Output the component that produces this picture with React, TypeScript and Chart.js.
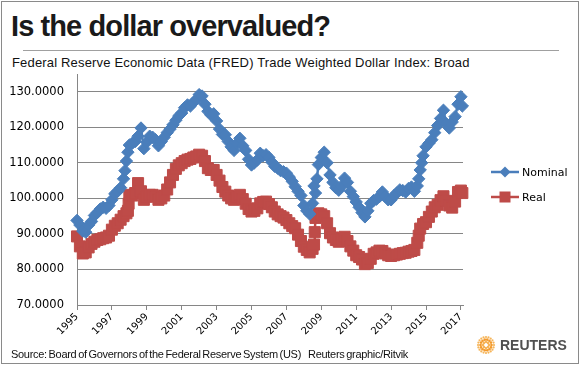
import React, { useEffect, useRef } from "react";
import { Chart, registerables } from "chart.js";

Chart.register(...registerables);

// Decimal-year dates and index values
const nominalDates = [
  1995.0, 1995.167, 1995.333, 1995.5, 1995.667, 1995.833,
  1996.0, 1996.167, 1996.333, 1996.5, 1996.667, 1996.833,
  1997.0, 1997.167, 1997.333, 1997.5, 1997.667, 1997.75, 1997.833, 1997.917,
  1998.0, 1998.167, 1998.333, 1998.5, 1998.667, 1998.833,
  1999.0, 1999.167, 1999.333, 1999.5, 1999.667, 1999.833,
  2000.0, 2000.167, 2000.333, 2000.5, 2000.667, 2000.833,
  2001.0, 2001.167, 2001.333, 2001.5, 2001.667, 2001.833,
  2002.0, 2002.167, 2002.333, 2002.5, 2002.667, 2002.833,
  2003.0, 2003.167, 2003.333, 2003.5, 2003.667, 2003.833,
  2004.0, 2004.167, 2004.333, 2004.5, 2004.667, 2004.833,
  2005.0, 2005.167, 2005.333, 2005.5, 2005.667, 2005.833,
  2006.0, 2006.167, 2006.333, 2006.5, 2006.667, 2006.833,
  2007.0, 2007.167, 2007.333, 2007.5, 2007.667, 2007.833,
  2008.0, 2008.167, 2008.333, 2008.5, 2008.583, 2008.667, 2008.75, 2008.833,
  2009.0, 2009.167, 2009.333, 2009.5, 2009.667, 2009.833,
  2010.0, 2010.167, 2010.333, 2010.5, 2010.667, 2010.833,
  2011.0, 2011.167, 2011.333, 2011.5, 2011.667, 2011.833,
  2012.0, 2012.167, 2012.333, 2012.5, 2012.667, 2012.833,
  2013.0, 2013.167, 2013.333, 2013.5, 2013.667, 2013.833,
  2014.0, 2014.167, 2014.333, 2014.5, 2014.583, 2014.667, 2014.75, 2014.833,
  2015.0, 2015.167, 2015.333, 2015.5, 2015.667, 2015.833,
  2016.0, 2016.167, 2016.333, 2016.5, 2016.667, 2016.833,
  2017.0, 2017.083,
];
const nominalValues = [
  93.8, 92.5, 90.8, 90.5, 92.5, 93.5,
  95.2, 96.0, 97.0, 97.5, 97.2, 98.0,
  99.6, 101.3, 102.0, 103.0, 105.5, 107.8, 110.5, 113.0,
  115.0, 115.5, 116.0, 117.5, 119.8, 114.0,
  115.8, 117.5, 117.2, 116.5, 114.8, 116.0,
  117.2, 118.5, 119.5, 120.7, 122.0, 123.2,
  124.0, 125.5, 126.3, 126.0, 127.0, 127.8,
  129.2, 128.8, 126.5, 124.5, 123.5, 123.8,
  121.8, 119.5, 118.0, 117.9, 116.0, 114.5,
  113.5, 115.5, 116.9, 114.8, 113.5, 111.0,
  109.4, 110.0, 110.8, 112.7, 112.0, 112.3,
  111.5, 110.2, 109.0, 108.5, 107.8, 107.5,
  107.1, 106.0, 104.8, 103.3, 102.0, 100.8,
  98.0, 96.5, 95.6, 98.6, 103.5, 101.5, 105.5, 109.5,
  111.5, 113.0, 110.0, 106.6, 104.5, 103.0,
  102.3, 103.5, 105.7, 104.5, 102.0, 100.5,
  99.0, 97.5, 96.0, 94.8, 96.5, 98.6,
  99.4, 99.8, 100.5, 101.8, 100.5, 99.6,
  99.6, 100.8, 101.5, 102.4, 102.2, 101.8,
  102.8, 103.2, 102.0, 103.5, 105.5, 108.0, 110.0, 112.0,
  114.5, 115.5, 116.5, 118.5, 120.5, 122.5,
  124.8, 121.0, 119.8, 121.5, 123.0, 126.5,
  128.6, 126.0,
];

const realDates = [
  1995.0, 1995.167, 1995.333, 1995.5, 1995.667, 1995.833,
  1996.0, 1996.167, 1996.333, 1996.5, 1996.667, 1996.833,
  1997.0, 1997.167, 1997.333, 1997.5, 1997.667, 1997.833, 1997.917, 1997.958,
  1998.0, 1998.167, 1998.333, 1998.5, 1998.667, 1998.833,
  1999.0, 1999.167, 1999.333, 1999.5, 1999.667, 1999.833,
  2000.0, 2000.167, 2000.333, 2000.5, 2000.667, 2000.833,
  2001.0, 2001.167, 2001.333, 2001.5, 2001.667, 2001.833,
  2002.0, 2002.167, 2002.333, 2002.5, 2002.667, 2002.833,
  2003.0, 2003.167, 2003.333, 2003.5, 2003.667, 2003.833,
  2004.0, 2004.167, 2004.333, 2004.5, 2004.667, 2004.833,
  2005.0, 2005.167, 2005.333, 2005.5, 2005.667, 2005.833,
  2006.0, 2006.167, 2006.333, 2006.5, 2006.667, 2006.833,
  2007.0, 2007.167, 2007.333, 2007.5, 2007.667, 2007.833,
  2008.0, 2008.167, 2008.333, 2008.5, 2008.583, 2008.625, 2008.667, 2008.833,
  2009.0, 2009.167, 2009.333, 2009.5, 2009.667, 2009.833,
  2010.0, 2010.167, 2010.333, 2010.5, 2010.667, 2010.833,
  2011.0, 2011.167, 2011.333, 2011.5, 2011.667, 2011.833,
  2012.0, 2012.167, 2012.333, 2012.5, 2012.667, 2012.833,
  2013.0, 2013.167, 2013.333, 2013.5, 2013.667, 2013.833,
  2014.0, 2014.167, 2014.333, 2014.5, 2014.583, 2014.667, 2014.833,
  2015.0, 2015.167, 2015.333, 2015.5, 2015.667, 2015.833,
  2016.0, 2016.167, 2016.333, 2016.5, 2016.667, 2016.833,
  2017.0, 2017.083,
];
const realValues = [
  89.3, 86.5, 84.5, 84.8, 86.2, 87.2,
  87.8, 88.3, 88.5, 88.8, 89.0, 89.5,
  91.2, 92.3, 93.0, 94.0, 95.0, 95.8, 96.5, 98.5,
  101.0, 100.8, 101.5, 104.3, 102.0, 99.6,
  100.5, 101.0, 101.0, 100.5, 99.6, 100.0,
  100.8, 102.5, 104.5, 106.6, 108.3, 109.3,
  109.9, 110.5, 110.9, 111.1, 111.5, 111.8,
  112.3, 112.0, 110.5, 108.5, 108.0, 108.0,
  106.6, 105.0, 103.2, 101.9, 100.8, 100.0,
  99.6, 100.5, 101.0, 99.8, 98.5, 97.0,
  96.3, 96.5, 97.2, 98.6, 99.0, 99.1,
  98.4, 97.5, 96.3, 95.5, 95.0, 94.6,
  93.9, 93.0, 92.2, 91.6, 89.8, 88.0,
  86.4, 85.5, 84.8, 85.8, 87.0, 90.5, 94.5, 95.8,
  95.5, 95.0, 93.0, 90.2, 89.0, 88.3,
  87.8, 88.5, 89.2, 88.0, 86.5, 85.3,
  84.0, 83.5, 82.8, 81.5, 81.8, 83.0,
  84.4, 84.8, 85.3, 85.2, 84.5, 84.0,
  83.8, 84.0, 84.2, 84.4, 84.6, 84.7,
  85.0, 85.2, 85.5, 87.5, 89.5, 91.5, 92.8,
  93.3, 94.8, 96.3, 97.5, 98.2, 99.5,
  100.6, 99.3, 98.0, 97.4, 99.1, 101.8,
  102.2, 101.5,
];

const yTickValues = [70, 80, 90, 100, 110, 120, 130];
const xTickValues = [1995, 1997, 1999, 2001, 2003, 2005, 2007, 2009, 2011, 2013, 2015, 2017];
const seriesNames = ["Nominal", "Real"];

const BLUE = "#4A7EBB";
const RED = "#BE4B48";
const GRID = "#868686";

function Swatch({ color, shape }: { color: string; shape: "diamond" | "square" }) {
  return (
    <svg width={30} height={14} style={{ display: "block" }}>
      <line x1={1} y1={7} x2={29} y2={7} stroke={color} strokeWidth={2.5} />
      {shape === "diamond" ? (
        <polygon points="15,1.5 20.5,7 15,12.5 9.5,7" fill={color} />
      ) : (
        <rect x={9.5} y={1.5} width={11} height={11} fill={color} />
      )}
    </svg>
  );
}

function ReutersMark() {
  const dots: JSX.Element[] = [];
  const rings = [3, 5.5, 8];
  rings.forEach((r, ri) => {
    const n = 8 + ri * 6;
    for (let i = 0; i < n; i++) {
      const a = (i / n) * Math.PI * 2;
      dots.push(
        <circle
          key={`${ri}-${i}`}
          cx={10 + r * Math.cos(a)}
          cy={10 + r * Math.sin(a)}
          r={ri === 2 ? 1.1 : 1.3}
          fill={ri === 1 ? "#F39A2B" : "#F6B458"}
        />
      );
    }
  });
  return (
    <svg width={20} height={20} style={{ position: "absolute", left: 476, top: 335 }}>
      {dots}
    </svg>
  );
}

export default function App() {
  const ref = useRef<HTMLCanvasElement>(null);

  useEffect(() => {
    if (!ref.current) return;
    const chart = new Chart(ref.current, {
      type: "line",
      data: {
        datasets: [
          {
            label: seriesNames[0],
            data: nominalDates.map((x, i) => ({ x, y: nominalValues[i] })),
            borderColor: BLUE,
            backgroundColor: BLUE,
            borderWidth: 2.5,
            pointStyle: "rectRot",
            pointRadius: 6.2,
            pointBorderWidth: 1,
            pointBorderColor: BLUE,
            pointBackgroundColor: BLUE,
            clip: false,
            tension: 0,
          },
          {
            label: seriesNames[1],
            data: realDates.map((x, i) => ({ x, y: realValues[i] })),
            borderColor: RED,
            backgroundColor: RED,
            borderWidth: 2.5,
            pointStyle: "rect",
            pointRadius: 7.8,
            pointBorderWidth: 1,
            pointBorderColor: RED,
            pointBackgroundColor: RED,
            clip: false,
            tension: 0,
          },
        ],
      },
      options: {
        responsive: false,
        animation: false,
        devicePixelRatio: 1,
        layout: { padding: { top: 74, right: 119, left: 0, bottom: 0 } },
        plugins: { legend: { display: false }, tooltip: { enabled: false }, title: { display: false } },
        scales: {
          x: {
            type: "linear",
            min: 1995,
            max: 2017.12,
            afterBuildTicks: (s: any) => {
              s.ticks = xTickValues.map((v) => ({ value: v }));
            },
            afterFit: (s: any) => {
              s.height = 64;
            },
            grid: { drawOnChartArea: false, drawTicks: true, tickLength: 5, color: GRID },
            border: { color: GRID, width: 1 },
            ticks: {
              autoSkip: false,
              minRotation: 45,
              maxRotation: 45,
              padding: 1,
              color: "#000",
              font: { family: "DejaVu Sans", size: 10 },
              callback: (v: any) => String(v),
            },
          },
          y: {
            min: 70,
            max: 135,
            afterBuildTicks: (s: any) => {
              s.ticks = yTickValues.map((v) => ({ value: v }));
            },
            afterFit: (s: any) => {
              s.width = 77;
            },
            grid: { color: GRID, drawTicks: false, lineWidth: 1 },
            border: { color: GRID, width: 1 },
            ticks: {
              padding: 13,
              color: "#000",
              font: { family: "DejaVu Sans", size: 11.5 },
              callback: (v: any) => Number(v).toFixed(4),
            },
          },
        },
      },
    });
    return () => chart.destroy();
  }, []);

  return (
    <div
      style={{
        position: "fixed",
        left: 0,
        top: 0,
        width: 582,
        height: 369,
        background: "#fff",
        overflow: "hidden",
        fontFamily: "'Liberation Sans', Arial, sans-serif",
      }}
    >
      <div
        style={{
          position: "absolute",
          left: 1,
          top: 1,
          width: 576,
          height: 361,
          border: "1px solid #8a8a8a",
        }}
      />
      <div
        style={{
          position: "absolute",
          left: 11,
          top: 9,
          fontSize: 29,
          fontWeight: "bold",
          color: "#1a1a1a",
          lineHeight: "34px",
          whiteSpace: "nowrap",
          letterSpacing: -0.9,
        }}
      >
        Is the dollar overvalued?
      </div>
      <div style={{ position: "absolute", left: 23, top: 50, width: 536, height: 1, background: "#a0a0a0" }} />
      <div
        style={{
          position: "absolute",
          left: 12,
          top: 55,
          fontSize: 13,
          color: "#111",
          lineHeight: "16px",
          whiteSpace: "nowrap",
          letterSpacing: 0.17,
        }}
      >
        Federal Reserve Economic Data (FRED) Trade Weighted Dollar Index: Broad
      </div>
      <canvas ref={ref} width={582} height={369} style={{ position: "absolute", left: 0, top: 0, width: 582, height: 369 }} />
      <div style={{ position: "absolute", left: 490, top: 165 }}>
        <div style={{ display: "flex", alignItems: "center", height: 14 }}>
          <Swatch color={BLUE} shape="diamond" />
          <span style={{ fontFamily: "'DejaVu Sans'", fontSize: 11, marginLeft: 2, color: "#000" }}>{seriesNames[0]}</span>
        </div>
        <div style={{ display: "flex", alignItems: "center", height: 14, marginTop: 11 }}>
          <Swatch color={RED} shape="square" />
          <span style={{ fontFamily: "'DejaVu Sans'", fontSize: 11, marginLeft: 2, color: "#000" }}>{seriesNames[1]}</span>
        </div>
      </div>
      <div
        style={{
          position: "absolute",
          left: 11,
          top: 348,
          fontSize: 11,
          color: "#111",
          lineHeight: "13px",
          whiteSpace: "nowrap",
          letterSpacing: -0.3,
          wordSpacing: -1,
        }}
      >
        Source: Board of Governors of the Federal Reserve System (US)&nbsp;&nbsp;&nbsp; Reuters graphic/Ritvik
      </div>
      <ReutersMark />
      <div
        style={{
          position: "absolute",
          left: 500,
          top: 337,
          fontSize: 14,
          fontWeight: "bold",
          color: "#505050",
          lineHeight: "17px",
          whiteSpace: "nowrap",
        }}
      >
        REUTERS
      </div>
    </div>
  );
}
